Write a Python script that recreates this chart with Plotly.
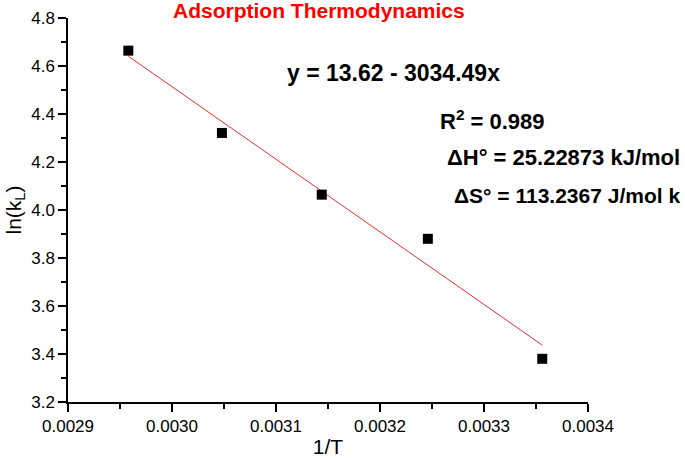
import plotly.graph_objects as go

# data
inv_t = [0.002958, 0.003048, 0.003144, 0.003246, 0.003356]
ln_kl = [4.664, 4.321, 4.064, 3.880, 3.380]

# linear fit y = 13.62 - 3034.49x, end points
fit_x = [0.002958, 0.003356]
fit_y = [4.641, 3.437]

x_ticks = [0.0029, 0.0030, 0.0031, 0.0032, 0.0033, 0.0034]
y_ticks = [3.2, 3.4, 3.6, 3.8, 4.0, 4.2, 4.4, 4.6, 4.8]

font_main = "Liberation Sans, Arial, sans-serif"

fig = go.Figure()

fig.add_trace(go.Scatter(
    x=fit_x,
    y=fit_y,
    mode="lines",
    line=dict(color="#e8302e", width=1),
    showlegend=False
))

fig.add_trace(go.Scatter(
    x=inv_t,
    y=ln_kl,
    mode="markers",
    marker=dict(symbol="square", size=10, color="black"),
    showlegend=False
))

axis_common = dict(
    showline=True,
    linecolor="black",
    linewidth=1.5,
    showgrid=False,
    zeroline=False,
    ticks="outside",
    ticklen=8,
    tickwidth=1.5,
    tickcolor="black",
    tickfont=dict(family=font_main, size=17, color="black"),
    mirror=False,
    automargin=False,
)

fig.update_xaxes(
    range=[0.0029, 0.0034],
    tickvals=x_ticks,
    ticktext=[f"{v:.4f}" for v in x_ticks],
    minor=dict(ticks="outside", ticklen=5, tickwidth=1.5, tickcolor="black", dtick=0.00005),
    title=dict(text="1/T", font=dict(family=font_main, size=21, color="black"), standoff=4),
    **axis_common
)

fig.update_yaxes(
    range=[3.2, 4.8],
    tickvals=y_ticks,
    ticktext=[f"{v:.1f}" for v in y_ticks],
    minor=dict(ticks="outside", ticklen=5, tickwidth=1.5, tickcolor="black", dtick=0.1),
    title=dict(text="ln(k<sub>L</sub>)", font=dict(family=font_main, size=21, color="black"), standoff=4),
    **axis_common
)

notes = [
    ("<b>y = 13.62 - 3034.49x</b>", 285, 73, 23),
    ("<b>R<sup>2</sup> = 0.989</b>", 438, 120, 22),
    ("<b>ΔH° = 25.22873 kJ/mol</b>", 445, 157, 22),
    ("<b>ΔS° = 113.2367 J/mol k</b>", 452, 195, 21),
]
for text, px_x, px_y, size in notes:
    fig.add_annotation(
        text=text,
        xref="paper", yref="paper",
        x=(px_x - 68) / (588 - 68),
        y=(402 - px_y) / (402 - 18),
        xanchor="left", yanchor="middle",
        showarrow=False,
        font=dict(family=font_main, size=size, color="black")
    )

fig.update_layout(
    width=685,
    height=459,
    plot_bgcolor="white",
    paper_bgcolor="white",
    title=dict(
        text="<b>Adsorption Thermodynamics</b>",
        font=dict(family=font_main, size=21, color="#ff0000"),
        x=173 / 685,
        xanchor="left",
        y=1 - 11 / 459,
        yanchor="middle"
    ),
    margin=dict(l=68, r=97, t=18, b=57)
)

fig.write_html(
    "out.html",
    config={"displayModeBar": False},
    post_script="document.body.style.margin='0';"
)
